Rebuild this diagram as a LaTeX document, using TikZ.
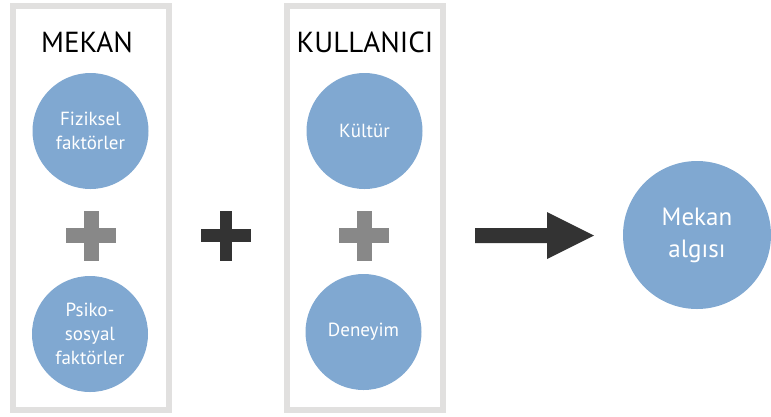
\documentclass[tikz,border=0pt]{standalone}
\usepackage{fontspec}
\setmainfont{PT Sans}
\definecolor{circblue}{HTML}{80A8D1}
\definecolor{framegray}{HTML}{E1E0DF}
\definecolor{plusgray}{HTML}{888888}
\definecolor{darkink}{HTML}{333333}
\tikzset{
  frame/.style={draw=framegray, line width=6pt, fill=white},
  heading/.style={font=\fontsize{29}{32}\selectfont, text=black},
  factor/.style={circle, fill=circblue, minimum size=116pt, inner sep=0pt,
    text=white, align=center, font=\fontsize{19}{24}\selectfont},
  result/.style={circle, fill=circblue, minimum size=148pt, inner sep=0pt,
    text=white, align=center, font=\fontsize{25}{32}\selectfont},
  plussign/.pic={
    \fill (-25,-\pgfkeysvalueof{/tikz/armw}) rectangle (25,\pgfkeysvalueof{/tikz/armw});
    \fill (-\pgfkeysvalueof{/tikz/armw},-25) rectangle (\pgfkeysvalueof{/tikz/armw},25);
  },
  armw/.initial=7.5,
}
\begin{document}
\begin{tikzpicture}[x=1pt,y=-1pt]
  \useasboundingbox (0,0) rectangle (771,416);

  % the two groups
  \draw[frame] (13,6) rectangle (169,410);
  \draw[frame] (287,6) rectangle (443,410);

  \node[heading] (mekan) at (87,42) {MEKAN};
  \node[heading] (kullanici) at (365,42) {KULLANICI};

  \node[factor] (fiziksel) at (90.5,131) {Fiziksel\\faktörler};
  \node[factor] (psiko) at (90,334) {Psiko-\\sosyal\\faktörler};
  \node[factor] (kultur) at (364.5,131) {Kültür};
  \node[factor] (deneyim) at (363.5,332) {Deneyim};

  % plus signs
  \pic[fill=plusgray, armw=7.5] at (91,235.5) {plussign};
  \pic[fill=plusgray, armw=7.5] at (364,235.5) {plussign};
  \pic[fill=darkink, armw=6.2] at (226,235.5) {plussign};

  % result
  \node[result] (algi) at (697,235) {Mekan\\algısı};

  % block arrow
  \coordinate (arrowtail) at (475,235.5);
  \coordinate (arrowtip) at (594,235.5);
  \fill[darkink] ([yshift=7.5pt]arrowtail) -- (547,228) -- (547,212) -- (arrowtip)
    -- (547,259) -- (547,243) -- ([yshift=-7.5pt]arrowtail) -- cycle;
\end{tikzpicture}
\end{document}
